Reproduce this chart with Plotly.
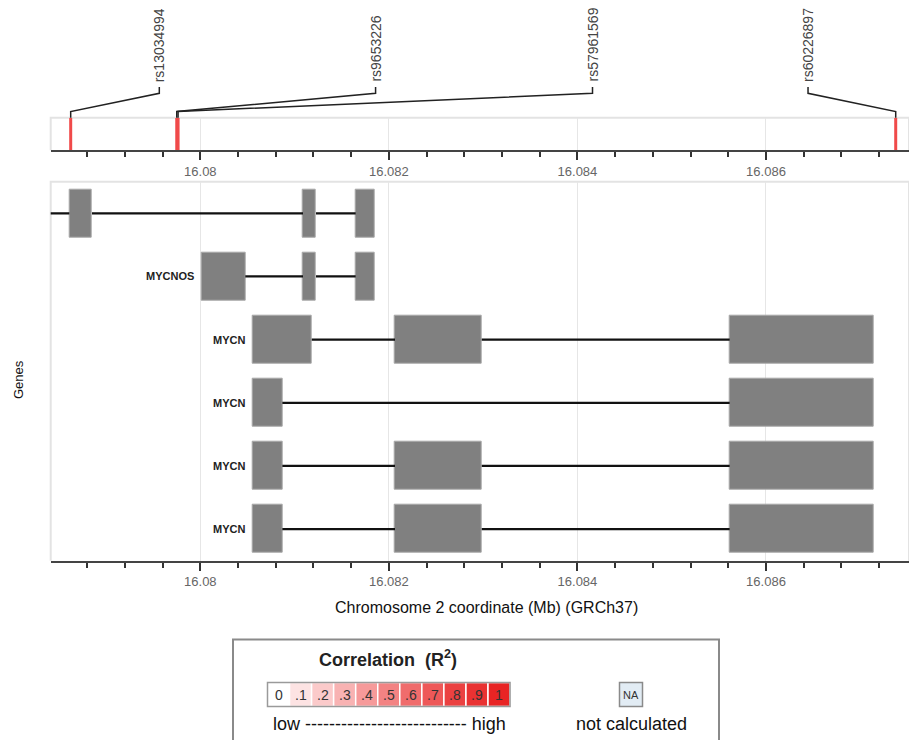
import plotly.graph_objects as go

W, H = 909, 740

# ---------------- data ----------------
x_range = [16.078413, 16.087517]

snp_ids = ["rs13034994", "rs9653226", "rs57961569", "rs60226897"]
snp_pos = [16.078625, 16.079750, 16.079764, 16.087376]
snp_label_x = [16.079565, 16.081859, 16.084160, 16.086446]

row_labels = ["", "MYCNOS", "MYCN", "MYCN", "MYCN", "MYCN"]
tx_start = [16.078000, 16.080015, 16.080556, 16.080556, 16.080556, 16.080556]
tx_end = [16.081853, 16.081853, 16.087138, 16.087138, 16.087138, 16.087138]
exon_starts = [
    [16.078611, 16.081089, 16.081648],
    [16.080015, 16.081089, 16.081648],
    [16.080556, 16.082065, 16.085615],
    [16.080556, 16.085615],
    [16.080556, 16.082065, 16.085615],
    [16.080556, 16.082065, 16.085615],
]
exon_ends = [
    [16.078851, 16.081227, 16.081853],
    [16.080477, 16.081227, 16.081853],
    [16.081182, 16.082985, 16.087138],
    [16.080870, 16.087138],
    [16.080870, 16.082985, 16.087138],
    [16.080870, 16.082985, 16.087138],
]

r2_labels = ["0", ".1", ".2", ".3", ".4", ".5", ".6", ".7", ".8", ".9", "1"]
r2_colors = ["#ffffff", "#fde3e3", "#fbcaca", "#f8b2b2", "#f69a9a", "#f38383",
             "#f06c6c", "#ee5858", "#eb4141", "#e93232", "#e82424"]

tick_vals = [16.080, 16.082, 16.084, 16.086]
tick_text = ["16.08", "16.082", "16.084", "16.086"]

# ---------------- helpers ----------------
def px(x):
    return x / W

def py(y):
    return 1 - y / H

fig = go.Figure()

# exons (horizontal bars)
bx, bbase, by = [], [], []
for i in range(len(row_labels)):
    for s, e in zip(exon_starts[i], exon_ends[i]):
        bx.append(e - s)
        bbase.append(s)
        by.append(i + 1)
fig.add_trace(go.Bar(
    x=bx, base=bbase, y=by, orientation="h", width=0.76,
    marker=dict(color="#808080", line=dict(color="#a8a8a8", width=1)),
    xaxis="x", yaxis="y", showlegend=False, hoverinfo="skip"))

# introns: line segments between exons (and to transcript ends)
lx_, ly_ = [], []
for i in range(len(row_labels)):
    edges = [tx_start[i]]
    for s, e in zip(exon_starts[i], exon_ends[i]):
        edges += [s, e]
    edges.append(tx_end[i])
    for a, b in zip(edges[0::2], edges[1::2]):
        if b > a:
            lx_ += [a, b, None]
            ly_ += [i + 1, i + 1, None]
fig.add_trace(go.Scatter(
    x=lx_, y=ly_, mode="lines", line=dict(color="#111111", width=2.2),
    xaxis="x", yaxis="y", showlegend=False, hoverinfo="skip"))

# SNP red lines in the top track
for p in snp_pos:
    fig.add_trace(go.Scatter(
        x=[p, p], y=[0, 1], mode="lines",
        line=dict(color="#f04a4a", width=3), xaxis="x2", yaxis="y2",
        showlegend=False, hoverinfo="skip"))

# ---------------- axes ----------------
axis_common = dict(
    range=x_range, tickmode="array", tickvals=tick_vals, ticktext=tick_text,
    ticks="outside", ticklen=8, tickwidth=1.5,
    tickcolor="#333333", showline=True, linecolor="#444444", linewidth=2,
    showgrid=True, gridcolor="#e6e6e6", gridwidth=1, zeroline=False,
    tickfont=dict(family="Arial", size=13, color="#666666"),
    minor=dict(tick0=16.08, dtick=0.0004, ticks="outside", ticklen=5,
               tickwidth=1.5, tickcolor="#333333", showgrid=False),
    domain=[px(50.7), 1.0], fixedrange=True,
)

fig.update_layout(
    width=W, height=H, margin=dict(l=0, r=0, t=0, b=0),
    paper_bgcolor="white", plot_bgcolor="white",
    xaxis=dict(anchor="y", **axis_common),
    xaxis2=dict(anchor="y2", **axis_common),
    yaxis=dict(domain=[py(560.7), py(181.7)], range=[6.5, 0.5],
               showticklabels=False, showgrid=False, zeroline=False,
               ticks="", showline=False, fixedrange=True),
    yaxis2=dict(domain=[py(150.3), py(117.7)], range=[0, 1],
                showticklabels=False, showgrid=False, zeroline=False,
                ticks="", showline=False, fixedrange=True),
    bargap=0, font=dict(family="Arial"),
)

shapes = []
# panel borders (light grey top/left/right)
for yr, xr in [("y domain", "x domain"), ("y2 domain", "x2 domain")]:
    shapes.append(dict(type="path", xref=xr, yref=yr,
                       path="M 0 0 L 0 1 L 1 1 L 1 0",
                       line=dict(color="#e3e3e3", width=2), layer="below"))

# leader lines from labels to SNPs
for lx, sx in zip(snp_label_x, snp_pos):
    shapes.append(dict(
        type="path", xref="x2", yref="paper",
        path=f"M {lx} {py(87)} L {lx} {py(93.3)} L {sx} {py(111.5)} L {sx} {py(117.7)}",
        line=dict(color="#222222", width=1.5)))

# legend box
shapes.append(dict(type="rect", xref="paper", yref="paper",
                   x0=px(233), x1=px(719), y0=py(760), y1=py(639.5),
                   line=dict(color="#8a8a8a", width=2), fillcolor="white"))
# colour cells
cell_x0, cell_w = 267.5, 22.05
for k, c in enumerate(r2_colors):
    shapes.append(dict(type="rect", xref="paper", yref="paper",
                       x0=px(cell_x0 + k * cell_w), x1=px(cell_x0 + (k + 1) * cell_w),
                       y0=py(706.5), y1=py(682.5),
                       line=dict(color="white", width=1.5), fillcolor=c))
shapes.append(dict(type="rect", xref="paper", yref="paper",
                   x0=px(cell_x0), x1=px(cell_x0 + 11 * cell_w),
                   y0=py(706.5), y1=py(682.5),
                   line=dict(color="#9a9a9a", width=1.5)))
# NA box
shapes.append(dict(type="rect", xref="paper", yref="paper",
                   x0=px(619.5), x1=px(642.5), y0=py(706.5), y1=py(682.5),
                   line=dict(color="#8a8a8a", width=1.5), fillcolor="#e2ecf4"))

annotations = []
# SNP labels
for name, lx in zip(snp_ids, snp_label_x):
    annotations.append(dict(
        x=lx, y=py(84), xref="x2", yref="paper", text=name, textangle=-90,
        showarrow=False, xanchor="center", yanchor="bottom",
        font=dict(family="Arial", size=14, color="#444444")))

# gene labels
for i, lab in enumerate(row_labels):
    if lab:
        annotations.append(dict(
            x=tx_start[i], y=i + 1, xref="x", yref="y", text=lab,
            showarrow=False, xanchor="right", yanchor="middle", xshift=-6,
            font=dict(family="Arial", size=11, color="#222222", weight="bold")))


def txt(x, y, text, size, color="#111111", angle=0):
    annotations.append(dict(x=px(x), y=py(y), xref="paper", yref="paper",
                            text=text, showarrow=False, textangle=angle,
                            xanchor="center", yanchor="middle",
                            font=dict(family="Arial", size=size, color=color)))


# axis titles
txt(486, 607, "Chromosome 2 coordinate (Mb) (GRCh37)", 16)
txt(18, 380, "Genes", 13, angle=-90)

# legend texts
txt(388, 658, "<b>Correlation  (R<sup>2</sup>)</b>", 18, "#222222")
for k, lab in enumerate(r2_labels):
    txt(cell_x0 + (k + 0.5) * cell_w, 694.5, lab, 14, "#333333")
txt(389, 724, "low --------------------------- high", 18)
txt(631, 694.5, "NA", 11, "#333333")
txt(631, 724, "not calculated", 18)

fig.update_layout(shapes=shapes, annotations=annotations)
fig.write_html("out.html", config={"displayModeBar": False},
               post_script="document.body.style.margin='0px';"
                           "document.body.style.overflow='hidden';")
